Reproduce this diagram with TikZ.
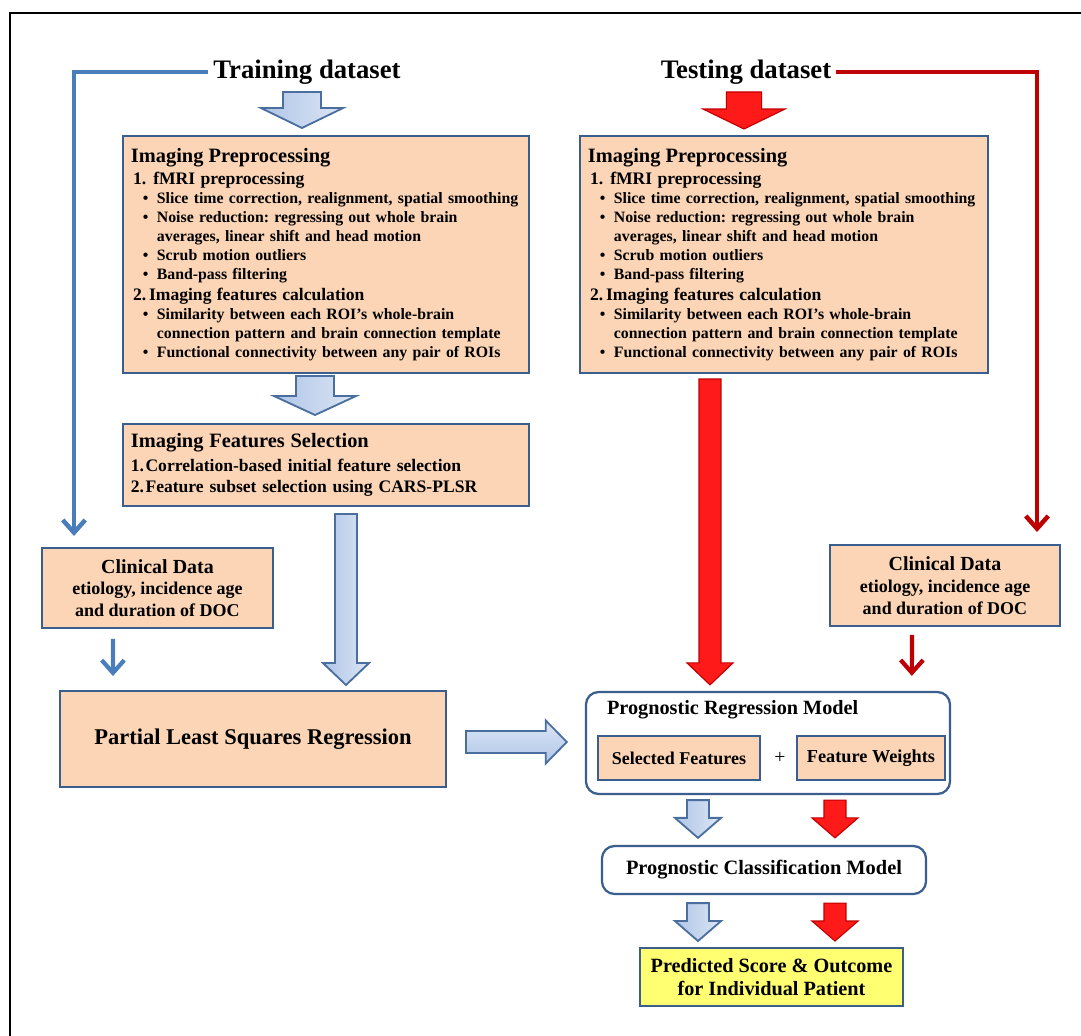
\documentclass[tikz,border=0pt]{standalone}
\usepackage{fontspec}
\setmainfont{Liberation Serif}
\usetikzlibrary{calc,arrows.meta}
\frenchspacing

\definecolor{peach}{HTML}{FBD5B5}
\definecolor{boxline}{HTML}{3A5F8E}
\definecolor{lineblue}{HTML}{4A7EBB}
\definecolor{blkline}{HTML}{4A6E9E}
\definecolor{blkL}{HTML}{AFC5E7}
\definecolor{blkR}{HTML}{DCE6F5}
\definecolor{darkred}{HTML}{C00000}
\definecolor{brightred}{HTML}{FF1A1A}
\definecolor{predyellow}{HTML}{FFFF71}

% block arrows: style, from, to, half shaft, half head, head length
\newcommand{\blkdown}[6]{%
  \path[#1] let \p1=(#2), \p2=(#3) in
    (\x1-#4,\y1) -- (\x1+#4,\y1) -- (\x1+#4,\y2+#6) -- (\x1+#5,\y2+#6)
    -- (\x1,\y2) -- (\x1-#5,\y2+#6) -- (\x1-#4,\y2+#6) -- cycle;}
\newcommand{\blkright}[6]{%
  \path[#1] let \p1=(#2), \p2=(#3) in
    (\x1,\y1+#4) -- (\x1,\y1-#4) -- (\x2-#6,\y1-#4) -- (\x2-#6,\y1-#5)
    -- (\x2,\y1) -- (\x2-#6,\y1+#5) -- (\x2-#6,\y1+#4) -- cycle;}

\newcommand{\bitem}[1]{\hspace*{8.5pt}\textbullet\hspace{6pt}#1}
\newcommand{\bcont}[1]{\hspace*{18.5pt}#1}
\newcommand{\preptext}{%
{\fontsize{14.5}{16}\selectfont Imaging Preprocessing}\\[2pt]
{\fontsize{12.5}{14}\selectfont\hspace*{1.5pt}1.\hspace{5pt}fMRI preprocessing}\\
\bitem{Slice time correction, realignment, spatial smoothing}\\
\bitem{Noise reduction: regressing out whole brain}\\
\bcont{averages, linear shift and head motion}\\
\bitem{Scrub motion outliers}\\
\bitem{Band-pass filtering}\\[1pt]
{\fontsize{12.5}{14}\selectfont\hspace*{1.5pt}2.\hspace{2pt}Imaging features calculation}\\
\bitem{Similarity between each ROI’s whole-brain}\\
\bcont{connection pattern and brain connection template}\\
\bitem{Functional connectivity between any pair of ROIs}}

\begin{document}
\begin{tikzpicture}[x=0.025cm, y=-0.025cm,
  box/.style={draw=boxline, fill=peach, line width=1.4pt, inner sep=0pt},
  rbox/.style={draw=boxline, fill=white, line width=1.6pt, rounded corners=9pt, inner sep=0pt},
  blk/.style={draw=blkline, line width=1.3pt, left color=blkL, right color=blkR},
  hblk/.style={draw=blkline, line width=1.3pt, top color=blkR, bottom color=blkL},
  redblk/.style={draw=darkred, line width=0.8pt, fill=brightred},
  bline/.style={draw=lineblue, line width=3.2pt, -{Straight Barb[length=9pt,width=16pt]}},
  rline/.style={draw=darkred, line width=3.2pt, -{Straight Barb[length=9pt,width=16pt]}}]

	\useasboundingbox (0,0) rectangle (1081,1036);
	\draw[line width=1pt] (10,1036) -- (10,13) -- (1081,13);

	\node[font=\fontsize{19}{22}\selectfont\bfseries] (trainT) at (307,72) {Training dataset};
	\node[font=\fontsize{19}{22}\selectfont\bfseries] (testT) at (746,72) {Testing dataset};

	\node[box, minimum width=10.15cm, minimum height=5.925cm, text width=9.75cm, align=left,
	  font=\fontsize{11.25}{13.6}\selectfont\bfseries] (prepL) at (326,254.5) {\preptext};
	\node[box, minimum width=10.2cm, minimum height=5.925cm, text width=9.8cm, align=left,
	  font=\fontsize{11.25}{13.6}\selectfont\bfseries] (prepR) at (784,254.5) {\preptext};

	\node[box, minimum width=10.15cm, minimum height=2.05cm, text width=9.75cm, align=left,
	  font=\fontsize{12.5}{15.2}\selectfont\bfseries] (selL) at (326,465)
	  {{\fontsize{14.5}{16}\selectfont Imaging Features Selection}\\[1.5pt]
	   1.\hspace{1pt}Correlation-based initial feature selection\\
	   2.\hspace{1pt}Feature subset selection using CARS-PLSR};

	\node[box, minimum width=5.775cm, minimum height=2cm, align=center,
	  font=\fontsize{12.8}{15.5}\selectfont\bfseries] (clinL) at (157.5,588)
	  {{\fontsize{14.2}{16}\selectfont Clinical Data}\\etiology, incidence age\\and duration of DOC};
	\node[box, minimum width=5.75cm, minimum height=2.025cm, align=center,
	  font=\fontsize{12.8}{15.5}\selectfont\bfseries] (clinR) at (945,585.5)
	  {{\fontsize{14.2}{16}\selectfont Clinical Data}\\etiology, incidence age\\and duration of DOC};

	\node[box, minimum width=9.65cm, minimum height=2.4cm,
	  font=\fontsize{16}{19}\selectfont\bfseries] (plsr) at (253,739) {Partial Least Squares Regression};

	\node[rbox, minimum width=9.1cm, minimum height=2.55cm] (regM) at (768,743) {};
	\node[anchor=west, inner sep=0pt, font=\fontsize{14.4}{16}\selectfont\bfseries] (regT)
	  at ($(regM.north west)+(22,19)$) {Prognostic Regression Model};
	\node[box, minimum width=4.05cm, minimum height=1.1cm, font=\fontsize{12.8}{15}\selectfont\bfseries]
	  (selF) at (679,758) {Selected Features};
	\node[box, minimum width=3.7cm, minimum height=1.1cm, font=\fontsize{13}{15}\selectfont\bfseries]
	  (wgtF) at (871,758) {Feature Weights};
	\node[font=\fontsize{14}{16}\selectfont] (plus) at (780,758) {+};

	\node[rbox, minimum width=8.1cm, minimum height=1.2cm, font=\fontsize{14.5}{17}\selectfont\bfseries]
	  (clsM) at (764,870) {Prognostic Classification Model};
	\node[box, fill=predyellow, minimum width=6.575cm, minimum height=1.45cm, align=center,
	  font=\fontsize{14.4}{16.4}\selectfont\bfseries] (pred) at (771.5,977)
	  {Predicted Score \& Outcome\\for Individual Patient};

	% thin arrows to the clinical data
	\draw[bline] (trainT.west) -| ($(clinL.north west)+(33,-11)$);
	\draw[rline] (testT.east) -| ($(clinR.north east)+(-24,-12)$);
	\draw[bline, line width=3pt] ($(clinL.south west)+(72,10)$) -- ($(plsr.north west)+(54,-14)$);
	\draw[rline, line width=3pt] ($(clinR.south west)+(83,8)$) -- ($(regM.north west)+(327,-15)$);

	% block arrows
	\blkdown{blk}{$(trainT.center)+(-5,20)$}{$(prepL.north)+(0,-7)$}{13.5pt}{29.2pt}{14.2pt}
	\blkdown{redblk}{$(testT.center)+(-2,20)$}{$(prepR.north)+(0,-6)$}{12.5pt}{29.2pt}{14.2pt}
	\blkdown{blk}{$(prepL.south)+(-11,2)$}{$(selL.north)+(0,-8)$}{13.5pt}{29.2pt}{13.5pt}
	\blkdown{blk}{$(selL.south)+(20,7)$}{$(plsr.north)+(0,-5)$}{7.8pt}{16.4pt}{15.6pt}
	\blkdown{redblk}{$(prepR.south)+(-74,5)$}{$(regM.north)+(0,-6)$}{7.8pt}{16.4pt}{15.6pt}
	\blkright{hblk}{$(plsr.east)+(19,3)$}{$(regM.west)+(-18,0)$}{7.8pt}{15.3pt}{15pt}
	\blkdown{blk}{$(regM.south)+(-70,5)$}{$(clsM.north)+(0,-7)$}{7.8pt}{16.4pt}{14.2pt}
	\blkdown{redblk}{$(regM.south)+(67,5)$}{$(clsM.north)+(0,-7)$}{7.8pt}{16.4pt}{14.2pt}
	\blkdown{blk}{$(clsM.south)+(-66,8)$}{$(pred.north)+(0,-6)$}{7.8pt}{16.4pt}{14.2pt}
	\blkdown{redblk}{$(clsM.south)+(71,8)$}{$(pred.north)+(0,-6)$}{7.8pt}{16.4pt}{14.2pt}

\end{tikzpicture}
\end{document}
